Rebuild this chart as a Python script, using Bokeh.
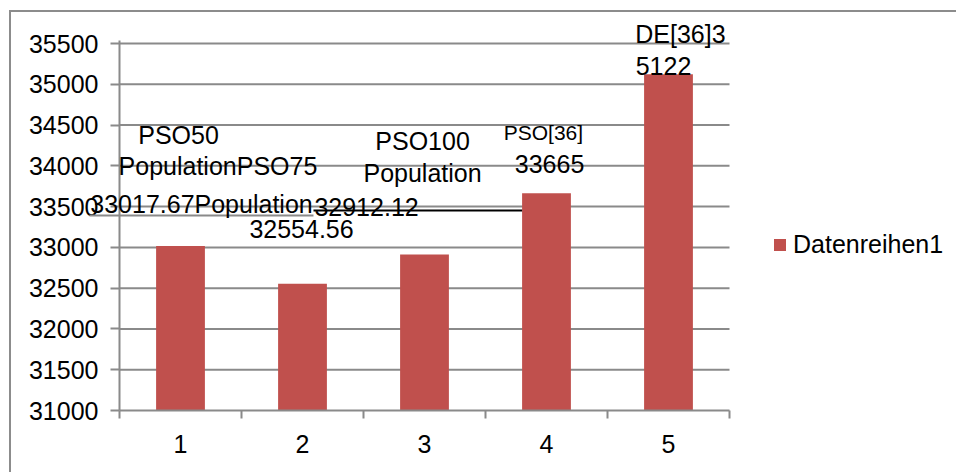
from bokeh.plotting import figure
from bokeh.models import (ColumnDataSource, FixedTicker, Range1d, Legend, LegendItem,
                          Label, InlineStyleSheet)
from bokeh.embed import file_html
from bokeh.resources import INLINE

# ---- data ----
categories = [1, 2, 3, 4, 5]
values = [33017.67, 32554.56, 32912.12, 33665, 35122]
series_name = "Datenreihen1"
y_ticks = [31000, 31500, 32000, 32500, 33000, 33500, 34000, 34500, 35000, 35500]

# data-label fragments as they appear in the chart (text, x, y in data units)
label_texts = ["PSO50", "PopulationPSO75", "33017.67Population", "32554.56",
               "32912.12", "PSO100", "Population", "PSO[36]", "33665",
               "DE[36]3", "5122"]
label_x = [0.984, 1.307, 1.172, 1.992, 2.525, 2.984, 2.984, 3.975, 4.025, 5.098, 4.959]
label_y = [34372, 33992, 33538, 33231, 33489, 34310, 33906, 34408, 34028, 35622, 35230]

FONT = "Liberation Sans"
GRID = "#8a8a8a"
BAR = "#C0504D"
FS = "25px"

# ---------------- main chart ----------------
p = figure(width=956, height=472, output_backend="svg", toolbar_location=None,
           x_range=Range1d(0.5, 7.3607), y_range=Range1d(31000, 35537),
           min_border_left=119, min_border_right=0, min_border_top=40,
           min_border_bottom=62)
p.outline_line_color = None
p.background_fill_color = "white"
p.border_fill_color = "white"
p.xgrid.visible = False
p.ygrid.visible = False

# outer chart border (top and left edges visible in the original)
p.stylesheets = [InlineStyleSheet(css=""":host::after { content: ""; position: absolute;
  left: 9px; top: 10px; right: 0px; bottom: 0px; border-top: 2px solid #8c8c8c;
  border-left: 2px solid #8c8c8c; pointer-events: none; }""")]

# horizontal gridlines
gy = y_ticks[1:]
p.segment(x0=[0.5] * len(gy), x1=[5.5] * len(gy), y0=gy, y1=gy,
          line_color=GRID, line_width=2)

src = ColumnDataSource(dict(x=categories, top=values))
bars = p.vbar(x="x", top="top", bottom=31000, width=0.4, source=src,
              fill_color=BAR, line_color=None)

# axes
p.xaxis.bounds = (0.5, 5.5)
p.xaxis.ticker = FixedTicker(ticks=categories,
                             minor_ticks=[c - 0.5 for c in categories] + [categories[-1] + 0.5])
p.xaxis.major_tick_out = 0
p.xaxis.major_tick_in = 0
p.xaxis.minor_tick_out = 8
p.xaxis.minor_tick_in = 0
p.xaxis.minor_tick_line_color = GRID
p.xaxis.minor_tick_line_width = 2
p.xaxis.axis_line_color = GRID
p.xaxis.axis_line_width = 2
p.xaxis.major_label_standoff = 16
p.xaxis.major_label_text_font = FONT
p.xaxis.major_label_text_font_size = FS
p.xaxis.major_label_text_color = "black"

p.yaxis.ticker = FixedTicker(ticks=y_ticks)
p.yaxis.major_tick_out = 9
p.yaxis.major_tick_in = 0
p.yaxis.minor_tick_line_color = None
p.yaxis.major_tick_line_color = GRID
p.yaxis.major_tick_line_width = 2
p.yaxis.axis_line_color = GRID
p.yaxis.axis_line_width = 2
p.yaxis.major_label_standoff = 12
p.yaxis.major_label_text_font = FONT
p.yaxis.major_label_text_font_size = FS
p.yaxis.major_label_text_color = "black"

legend = Legend(items=[LegendItem(label=series_name, renderers=[bars])],
                location=(653, 151), padding=0, margin=0, spacing=0,
                glyph_width=15, glyph_height=15, label_standoff=6,
                label_text_font=FONT, label_text_font_size=FS,
                label_text_color="black",
                border_line_color=None, background_fill_alpha=0)
p.add_layout(legend, "center")

# ------------- transparent overlay carrying the data labels -------------
# same data scale as the main chart, but its frame spans the whole canvas so
# labels that run past the plot area are not clipped
q = figure(width=956, height=472, output_backend="svg", toolbar_location=None,
           x_range=Range1d(-0.4754, 7.3607), y_range=Range1d(30239.8, 36027.0),
           min_border_left=0, min_border_right=0, min_border_top=0,
           min_border_bottom=0, x_axis_location=None, y_axis_location=None)
q.outline_line_color = None
q.background_fill_alpha = 0
q.border_fill_alpha = 0
q.xgrid.visible = False
q.ygrid.visible = False
q.styles = {"position": "absolute", "left": "0px", "top": "0px", "pointer-events": "none"}

# stray lines seen in the original
q.segment(x0=[0.254], y0=[33391], x1=[2.09], y1=[33391], line_color=GRID, line_width=2)
q.segment(x0=[2.09], y0=[33452], x1=[3.80], y1=[33452], line_color="black", line_width=2)

for t, x, y in zip(label_texts, label_x, label_y):
    size = "21px" if t == "PSO[36]" else FS
    q.add_layout(Label(x=x, y=y, text=t, text_font=FONT, text_font_size=size,
                       text_align="center", text_baseline="middle", text_color="black"))

open("out.html", "w").write(file_html([p, q], INLINE))
